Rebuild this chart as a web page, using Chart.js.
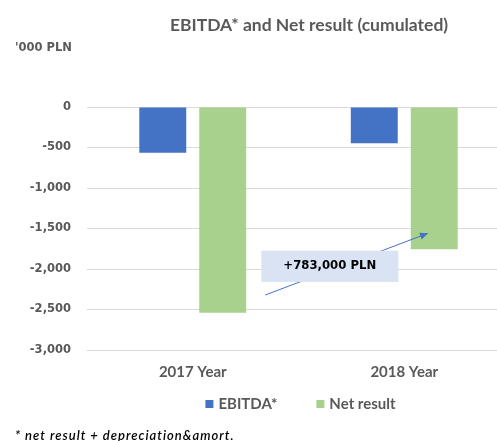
<!DOCTYPE html>
<html>
<head>
<meta charset="utf-8">
<script src="https://cdn.jsdelivr.net/npm/chart.js@4.4.0/dist/chart.umd.min.js"></script>
<style>
  html, body { margin: 0; padding: 0; background: #fff; overflow: hidden; }
  #wrap { width: 510px; height: 441px; }
</style>
</head>
<body>
<div id="wrap"><canvas id="chart" width="510" height="441"></canvas></div>
<script>
// =====================
// Data
// =====================
const categories = ['2017 Year', '2018 Year'];
const ebitda = [-564, -449];
const netResult = [-2540, -1757];
const yTicks = [0, -500, -1000, -1500, -2000, -2500, -3000];

const BLUE = '#4472C4';
const GREEN = '#A9D18E';
const GREY = '#595959';

// =====================
// Extra drawing: title, unit, callout, legend, footnote
// =====================
const decorPlugin = {
  id: 'decor',
  afterDatasetsDraw(chart) {
    const ctx = chart.ctx;
    const x = chart.scales.x, y = chart.scales.y;

    // callout arrow (from 2017 net result towards 2018 net result)
    const x0 = x.getPixelForValue(0.343), y0 = y.getPixelForValue(-2321);
    const x1 = x.getPixelForValue(1.112), y1 = y.getPixelForValue(-1559);
    ctx.save();
    ctx.strokeStyle = BLUE;
    ctx.fillStyle = BLUE;
    ctx.lineWidth = 1;
    ctx.beginPath();
    ctx.moveTo(x0, y0);
    ctx.lineTo(x1, y1);
    ctx.stroke();
    const ang = Math.atan2(y1 - y0, x1 - x0);
    ctx.beginPath();
    ctx.moveTo(x1, y1);
    ctx.lineTo(x1 - 8 * Math.cos(ang) + 3.5 * Math.sin(ang), y1 - 8 * Math.sin(ang) - 3.5 * Math.cos(ang));
    ctx.lineTo(x1 - 8 * Math.cos(ang) - 3.5 * Math.sin(ang), y1 - 8 * Math.sin(ang) + 3.5 * Math.cos(ang));
    ctx.closePath();
    ctx.fill();

    // callout box
    const bx0 = x.getPixelForValue(0.324), bx1 = x.getPixelForValue(0.972);
    const by0 = y.getPixelForValue(-1774), by1 = y.getPixelForValue(-2160);
    ctx.fillStyle = '#DAE3F3';
    ctx.fillRect(bx0, by0, bx1 - bx0, by1 - by0);
    const diff = netResult[1] - netResult[0];
    ctx.fillStyle = '#000';
    ctx.font = 'bold 11.7px "DejaVu Sans"';
    ctx.textAlign = 'center';
    ctx.textBaseline = 'middle';
    ctx.fillText('+' + (diff * 1000).toLocaleString('en-US') + ' PLN', (bx0 + bx1) / 2, (by0 + by1) / 2);
    ctx.restore();
  },
  afterDraw(chart) {
    const ctx = chart.ctx;
    const area = chart.chartArea;
    ctx.save();

    // title
    ctx.fillStyle = GREY;
    ctx.textBaseline = 'middle';
    ctx.textAlign = 'center';
    ctx.font = 'bold 17.5px Lato';
    ctx.fillText('EBITDA* and Net result (cumulated)', 309, 25);

    // unit
    ctx.textAlign = 'left';
    ctx.font = 'bold 11.5px "DejaVu Sans"';
    ctx.fillText("'000 PLN", 15, 48);

    // legend
    ctx.font = 'bold 15px Lato';
    const items = chart.data.datasets.map(d => ({ text: d.label, color: d.backgroundColor }));
    const box = 8, gap = 5, spacing = 39;
    let total = 0;
    items.forEach((it, i) => {
      it.w = ctx.measureText(it.text).width;
      total += box + gap + it.w + (i ? spacing : 0);
    });
    let lx = (area.left + area.right) / 2 + 2 - total / 2;
    const ly = 404;
    items.forEach(it => {
      ctx.fillStyle = it.color;
      ctx.fillRect(lx, ly - box / 2, box, box);
      ctx.fillStyle = GREY;
      ctx.fillText(it.text, lx + box + gap, ly);
      lx += box + gap + it.w + spacing;
    });

    // footnote
    ctx.fillStyle = '#000';
    ctx.font = 'italic 600 13px Lato';
    ctx.letterSpacing = '1px';
    ctx.fillText('* net result + depreciation&amort.', 15, 436);
    ctx.restore();
  }
};

// =====================
// Chart
// =====================
const chart = new Chart(document.getElementById('chart').getContext('2d'), {
  type: 'bar',
  data: {
    labels: categories,
    datasets: [
      { label: 'EBITDA*', data: ebitda, backgroundColor: BLUE, barPercentage: 0.783, categoryPercentage: 0.567 },
      { label: 'Net result', data: netResult, backgroundColor: GREEN, barPercentage: 0.783, categoryPercentage: 0.567 }
    ]
  },
  options: {
    responsive: false,
    animation: false,
    layout: { padding: { top: 107, left: 0, right: 0, bottom: 55 } },
    plugins: {
      legend: { display: false },
      title: { display: false },
      tooltip: { enabled: false }
    },
    scales: {
      x: {
        grid: { display: false },
        border: { display: false },
        ticks: { color: GREY, font: { family: 'Lato', size: 15, weight: 'bold' }, padding: 5 }
      },
      y: {
        min: -3000,
        max: 0,
        afterFit: s => { s.width = 87; },
        afterBuildTicks: s => { s.ticks = yTicks.map(v => ({ value: v })); },
        grid: { color: '#D9D9D9', lineWidth: 1, drawTicks: false },
        border: { display: false },
        ticks: {
          color: GREY,
          padding: 16,
          font: { family: 'DejaVu Sans', size: 11.5, weight: 'bold' },
          callback: v => v.toLocaleString('en-US')
        }
      }
    }
  },
  plugins: [decorPlugin]
});
</script>
</body>
</html>
